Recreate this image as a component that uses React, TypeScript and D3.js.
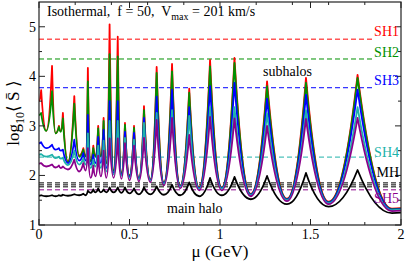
import React from "react";
import * as d3 from "d3";

// resonance nodes along mu (GeV): peaks and troughs alternate
const muNodes = [
  0.0, 0.012, 0.04, 0.072, 0.092, 0.11, 0.12, 0.132, 0.16,
  0.195, 0.222, 0.245, 0.258, 0.27, 0.285, 0.3, 0.312, 0.327, 0.342,
  0.357, 0.372, 0.39, 0.412, 0.435, 0.455, 0.475, 0.5, 0.525, 0.552,
  0.58, 0.615, 0.65, 0.69, 0.735, 0.78, 0.83, 0.885, 0.945, 1.01,
  1.08, 1.17, 1.26, 1.37, 1.475, 1.6, 1.76, 1.95, 2.0,
];

const sh1 = [
  3.5, 3.72, 2.9, 4.21, 2.85, 3.0, 2.9, 3.26, 2.28,
  3.6, 2.4, 2.55, 2.4, 4.17, 2.3, 2.6, 2.4, 3.0, 2.4,
  3.16, 2.25, 5.05, 2.1, 4.8, 2.05, 3.06, 2.0, 3.0, 1.95,
  3.4, 1.92, 4.19, 1.86, 4.25, 1.8, 3.75, 1.76, 4.33, 1.76,
  4.37, 1.63, 3.9, 1.53, 3.97, 1.47, 4.03, 1.33, 1.34,
];
const sh2 = [
  3.22, 3.26, 2.9, 3.7, 2.85, 2.98, 2.88, 3.15, 2.27,
  3.45, 2.38, 2.52, 2.38, 3.9, 2.28, 2.55, 2.38, 2.95, 2.38,
  3.1, 2.24, 4.45, 2.09, 4.4, 2.04, 3.02, 1.99, 2.96, 1.94,
  3.32, 1.91, 4.07, 1.85, 4.1, 1.79, 3.67, 1.75, 4.2, 1.75,
  4.27, 1.62, 3.8, 1.52, 3.87, 1.46, 3.97, 1.32, 1.33,
];
const sh3 = [
  2.65, 2.67, 2.55, 2.62, 2.52, 2.55, 2.5, 2.52, 2.25,
  2.72, 2.3, 2.45, 2.3, 3.22, 2.22, 2.42, 2.25, 2.78, 2.25,
  2.92, 2.15, 3.5, 2.05, 3.5, 2.01, 2.88, 1.97, 2.86, 1.93,
  3.16, 1.9, 3.59, 1.84, 3.73, 1.78, 3.38, 1.74, 3.8, 1.74,
  3.87, 1.61, 3.55, 1.51, 3.63, 1.45, 3.73, 1.31, 1.32,
];
const sh4 = [
  2.42, 2.43, 2.38, 2.42, 2.35, 2.38, 2.34, 2.36, 2.21,
  2.5, 2.22, 2.35, 2.22, 2.85, 2.15, 2.32, 2.18, 2.6, 2.15,
  2.7, 2.08, 3.1, 2.02, 3.1, 1.99, 2.76, 1.95, 2.72, 1.92,
  3.06, 1.89, 3.26, 1.83, 3.32, 1.77, 3.2, 1.73, 3.38, 1.73,
  3.38, 1.6, 3.25, 1.5, 3.32, 1.44, 3.38, 1.3, 1.31,
];
const sh5 = [
  2.24, 2.25, 2.18, 2.22, 2.16, 2.2, 2.15, 2.18, 2.12,
  2.32, 2.08, 2.25, 2.1, 2.55, 1.95, 2.2, 1.98, 2.4, 1.98,
  2.5, 1.95, 2.75, 1.95, 2.75, 1.93, 2.65, 1.9, 2.6, 1.88,
  2.76, 1.86, 3.12, 1.8, 3.16, 1.74, 2.82, 1.7, 3.18, 1.7,
  3.15, 1.58, 3.0, 1.48, 3.14, 1.42, 3.16, 1.28, 1.29,
];
const mh = [
  1.59, 1.6, 1.58, 1.6, 1.58, 1.6, 1.59, 1.61, 1.59,
  1.62, 1.6, 1.63, 1.6, 1.69, 1.65, 1.72, 1.66, 1.74, 1.66,
  1.72, 1.66, 1.76, 1.66, 1.76, 1.65, 1.76, 1.64, 1.74, 1.62,
  1.76, 1.62, 1.78, 1.61, 1.81, 1.6, 1.86, 1.58, 1.95, 1.6,
  1.97, 1.52, 1.99, 1.42, 2.05, 1.37, 2.11, 1.24, 1.25,
];

const seriesNames = ["SH1", "SH2", "SH3", "SH4", "SH5"];
const seriesValues = [sh1, sh2, sh3, sh4, sh5];
const seriesColors = ["#ff0000", "#009000", "#0000ff", "#20b2aa", "#8b008b"];
const labelBaselines = [36, 57, 85, 157, 203];

// dashed reference levels (log10 <S>)
const subhaloLevels = [4.75, 4.35, 3.77, 2.37, 1.71];
const subhaloLevelEnds = [1.84, 1.84, 1.84, 1.86, 2.0];
const mainHaloLevels = [1.85, 1.81, 1.77];

const W = 407;
const H = 261;
const left = 39;
const right = 401;
const top = 2;
const bottom = 225;

// cusp at the higher point, flat bottom at the lower point of each pair
class ResonanceCurve {
  _context: any;
  _pts: number[][] = [];
  constructor(context: any) {
    this._context = context;
  }
  areaStart() {}
  areaEnd() {}
  lineStart() {
    this._pts = [];
  }
  point(x: number, y: number) {
    this._pts.push([+x, +y]);
  }
  lineEnd() {
    const p = this._pts;
    const c = this._context;
    if (!p.length) return;
    c.moveTo(p[0][0], p[0][1]);
    for (let i = 1; i < p.length; i++) {
      const [ax, ay] = p[i - 1];
      const [bx, by] = p[i];
      c.quadraticCurveTo((ax + bx) / 2, Math.max(ay, by), bx, by);
    }
  }
}
const curveResonance = (context: any) => new ResonanceCurve(context);

export default function App() {
  const x = d3.scaleLinear().domain([0, 2]).range([left, right]);
  const y = d3.scaleLinear().domain([1, 5.5]).range([bottom, top]);

  const line = d3
    .line<number>()
    .x((d, i) => x(muNodes[i]))
    .y((d) => y(d))
    .curve(curveResonance as any);

  const font = "'Liberation Serif', 'Times New Roman', serif";
  const xMajor = x.ticks(4);
  const xMinor = x.ticks(8).filter((t) => !xMajor.includes(t));
  const yMajor = [1, 2, 3, 4, 5];
  const yMinor = d3.range(1.5, 5.5, 1);
  const axisColor = "#222";

  return (
    <svg
      width={W}
      height={H}
      style={{ position: "absolute", left: 0, top: 0, background: "#fff", fontFamily: font }}
    >
      <defs>
        <clipPath id="plot">
          <rect x={left} y={top} width={right - left} height={bottom - top} />
        </clipPath>
      </defs>

      <g clipPath="url(#plot)">
        {subhaloLevels.map((v, i) => (
          <line
            key={"sh" + i}
            x1={x(0)}
            x2={x(subhaloLevelEnds[i])}
            y1={y(v)}
            y2={y(v)}
            stroke={seriesColors[i]}
            strokeWidth={1}
            strokeDasharray="5,3"
          />
        ))}
        {mainHaloLevels.map((v, i) => (
          <line
            key={"mh" + i}
            x1={x(0)}
            x2={x(2)}
            y1={y(v)}
            y2={y(v)}
            stroke="#000"
            strokeWidth={1}
            strokeDasharray="5,3"
          />
        ))}
        {seriesValues.map((vals, i) => (
          <path
            key={seriesNames[i]}
            d={line(vals) || ""}
            fill="none"
            stroke={seriesColors[i]}
            strokeWidth={1.8}
            strokeLinejoin="round"
          />
        ))}
        <path d={line(mh) || ""} fill="none" stroke="#000" strokeWidth={1.8} strokeLinejoin="round" />
      </g>

      {/* frame and ticks */}
      <rect x={left} y={top} width={right - left} height={bottom - top} fill="none" stroke={axisColor} strokeWidth={1.2} />
      {xMajor.map((t) => (
        <g key={"xM" + t}>
          <line x1={x(t)} x2={x(t)} y1={bottom} y2={bottom - 6} stroke={axisColor} />
          <line x1={x(t)} x2={x(t)} y1={top} y2={top + 6} stroke={axisColor} />
          <text x={x(t)} y={239} fontSize={14} textAnchor="middle">
            {t}
          </text>
        </g>
      ))}
      {xMinor.map((t) => (
        <g key={"xm" + t}>
          <line x1={x(t)} x2={x(t)} y1={bottom} y2={bottom - 3} stroke={axisColor} />
          <line x1={x(t)} x2={x(t)} y1={top} y2={top + 3} stroke={axisColor} />
        </g>
      ))}
      {yMajor.map((t) => (
        <g key={"yM" + t}>
          <line x1={left} x2={left + 6} y1={y(t)} y2={y(t)} stroke={axisColor} />
          <line x1={right} x2={right - 6} y1={y(t)} y2={y(t)} stroke={axisColor} />
          <text x={36} y={y(t)} dy="0.35em" fontSize={14} textAnchor="end">
            {t}
          </text>
        </g>
      ))}
      {yMinor.map((t) => (
        <g key={"ym" + t}>
          <line x1={left} x2={left + 3} y1={y(t)} y2={y(t)} stroke={axisColor} />
          <line x1={right} x2={right - 3} y1={y(t)} y2={y(t)} stroke={axisColor} />
        </g>
      ))}

      {/* axis titles */}
      <text x={220} y={257} fontSize={17} textAnchor="middle">
        μ (GeV)
      </text>
      <text transform="translate(19,113) rotate(-90)" fontSize={17} textAnchor="middle">
        log<tspan dy={5} fontSize={12}>10</tspan>
        <tspan dy={-5}>⟨ S̄ ⟩</tspan>
      </text>

      {/* title */}
      <text x={47} y={16} fontSize={14} style={{ whiteSpace: "pre" }}>
        {"Isothermal,  f = 50,  V"}
        <tspan dy={4} fontSize={10}>max</tspan>
        <tspan dy={-4}>{" = 201 km/s"}</tspan>
      </text>

      {/* annotations */}
      <text x={263} y={76} fontSize={14}>subhalos</text>
      <text x={167} y={213} fontSize={14}>main halo</text>
      {seriesNames.map((n, i) => (
        <text key={"lab" + n} x={399} y={labelBaselines[i]} fontSize={14} textAnchor="end" fill={seriesColors[i]}>
          {n}
        </text>
      ))}
      <text x={399} y={177} fontSize={14} textAnchor="end">
        MH
      </text>
    </svg>
  );
}
